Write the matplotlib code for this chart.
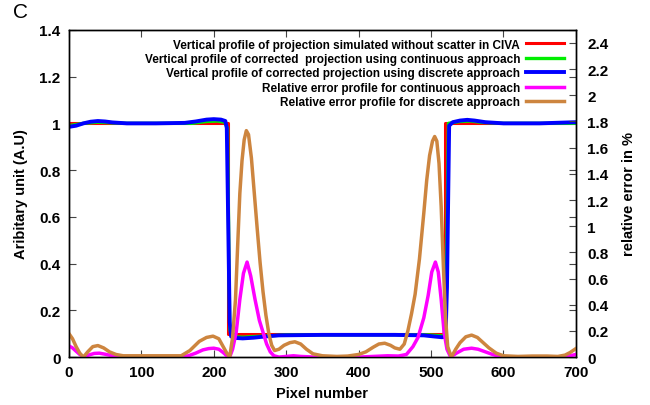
"""Profil vertical + erreur relative (continu vs discret)."""
import matplotlib
matplotlib.use("Agg")
import matplotlib.pyplot as plt
from matplotlib.ticker import FuncFormatter

plt.rcParams["font.family"] = ["Liberation Sans", "DejaVu Sans"]
plt.rcParams["font.weight"] = "bold"

# profil de reference (CIVA sans diffuse)
x_ref = [0, 220, 220, 519, 519, 700]
y_ref = [1.0, 1.0, 0.1, 0.1, 1.0, 1.0]

# profil corrige, approche continue
x_cont = [0, 10, 20, 40, 60, 80, 170, 190, 205, 215, 219, 222, 225, 240, 270,
          300, 450, 495, 510, 518, 521, 524, 540, 555, 570, 600, 700]
y_cont = [0.99, 0.995, 1.0, 1.005, 1.002, 1.0, 1.0, 1.008, 1.01, 1.005, 0.98,
          0.12, 0.088, 0.085, 0.09, 0.095, 0.096, 0.095, 0.092, 0.09, 0.3,
          1.0, 1.008, 1.01, 1.004, 1.0, 1.0]

# profil corrige, approche discrete
x_disc = [0, 10, 20, 30, 40, 50, 60, 80, 120, 160, 175, 190, 200, 210, 216,
          218, 222, 224, 230, 240, 255, 270, 290, 350, 450, 490, 505, 515,
          520, 522, 525, 530, 540, 550, 560, 575, 600, 650, 700]
y_disc = [0.985, 0.99, 1.0, 1.007, 1.01, 1.008, 1.004, 1.0, 1.0, 1.002, 1.008,
          1.016, 1.018, 1.016, 1.01, 0.98, 0.15, 0.088, 0.082, 0.08, 0.083,
          0.088, 0.093, 0.095, 0.095, 0.093, 0.088, 0.085, 0.087, 0.3, 0.99,
          1.005, 1.012, 1.015, 1.012, 1.005, 1.0, 1.0, 1.005]

# erreur relative (%), approche continue
x_err_c = [0, 5, 10, 15, 20, 27, 35, 42, 50, 60, 70, 100, 150, 165, 175, 185,
           193, 200, 207, 213, 218, 222, 226, 231, 236, 241, 246, 251, 257,
           263, 268, 273, 278, 283, 290, 300, 310, 320, 340, 400, 420, 440,
           455, 466, 475, 482, 490, 496, 501, 506, 510, 514, 518, 522, 527,
           535, 545, 556, 565, 575, 585, 595, 610, 680, 690, 700]
y_err_c = [0.086, 0.07, 0.045, 0.02, 0.0, 0.015, 0.028, 0.03, 0.022, 0.01,
           0.003, 0.0, 0.0, 0.01, 0.03, 0.055, 0.065, 0.068, 0.06, 0.035,
           0.01, 0.0, 0.06, 0.19, 0.44, 0.64, 0.726, 0.62, 0.44, 0.28, 0.19,
           0.1, 0.04, 0.01, 0.0, 0.005, 0.01, 0.005, 0.0, 0.0, 0.005, 0.01,
           0.008, 0.02, 0.08, 0.15, 0.3, 0.47, 0.65, 0.726, 0.65, 0.44, 0.19,
           0.06, 0.0, 0.03, 0.06, 0.068, 0.06, 0.04, 0.02, 0.005, 0.0, 0.0,
           0.008, 0.02]

# erreur relative (%), approche discrete
x_err_d = [0, 5, 10, 15, 20, 26, 33, 40, 48, 56, 65, 75, 100, 130, 155, 167,
           180, 190, 199, 207, 213, 218, 222, 226, 230, 233, 236, 239, 242,
           245, 248, 252, 256, 260, 264, 268, 272, 276, 280, 284, 290, 297,
           305, 312, 320, 328, 337, 350, 370, 385, 400, 410, 420, 428, 436,
           444, 450, 457, 463, 468, 473, 478, 484, 490, 494, 498, 502, 505,
           508, 511, 514, 517, 520, 523, 528, 534, 540, 548, 556, 564, 572,
           580, 590, 600, 620, 640, 660, 675, 685, 692, 700]
y_err_d = [0.18, 0.14, 0.08, 0.03, 0.0, 0.04, 0.08, 0.088, 0.07, 0.04, 0.02,
           0.01, 0.01, 0.01, 0.01, 0.05, 0.12, 0.15, 0.16, 0.14, 0.08, 0.03,
           0.0, 0.15, 0.44, 0.85, 1.25, 1.5, 1.66, 1.73, 1.7, 1.52, 1.25,
           0.98, 0.72, 0.5, 0.32, 0.18, 0.09, 0.05, 0.06, 0.09, 0.11, 0.117,
           0.1, 0.06, 0.025, 0.01, 0.005, 0.008, 0.02, 0.04, 0.075, 0.1, 0.106,
           0.09, 0.07, 0.06, 0.1, 0.2, 0.33, 0.48, 0.75, 1.1, 1.35, 1.54, 1.65,
           1.685, 1.65, 1.48, 1.15, 0.7, 0.3, 0.08, 0.0, 0.06, 0.11, 0.155,
           0.168, 0.15, 0.11, 0.07, 0.03, 0.01, 0.005, 0.008, 0.008, 0.005,
           0.015, 0.035, 0.065]

labels = [
    "Vertical profile of projection simulated without scatter in CIVA",
    "Vertical profile of corrected  projection using continuous approach",
    "Vertical profile of corrected projection using discrete approach",
    "Relative error profile for continuous approach",
    "Relative error profile for discrete approach",
]

fmt = FuncFormatter(lambda v, p: "%g" % round(v, 4))

fig = plt.figure(figsize=(6.5, 4.06), dpi=100)
ax = fig.add_axes([0.106, 0.118, 0.78, 0.806])
ax2 = ax.twinx()

l1, = ax.plot(x_ref, y_ref, color="#ff0000", lw=2.2)
l2, = ax.plot(x_cont, y_cont, color="#00ee00", lw=2.4)
l3, = ax.plot(x_disc, y_disc, color="#0000ff", lw=2.8)
l4, = ax2.plot(x_err_c, y_err_c, color="#ff00ff", lw=2.5)
l5, = ax2.plot(x_err_d, y_err_d, color="#cd853f", lw=2.5)

ax.set_xlim(0, 700)
ax.set_ylim(0, 1.4)
ax2.set_ylim(0, 2.5)
ax.set_xticks(range(0, 701, 100))
ax.set_yticks([i * 0.2 for i in range(8)])
ax2.set_yticks([i * 0.2 for i in range(13)])
ax.yaxis.set_major_formatter(fmt)
ax2.yaxis.set_major_formatter(fmt)

ax.tick_params(direction="in", top=True, right=True, length=5, width=0.8,
               labelsize=11, color="#444444", pad=6)
ax2.tick_params(direction="in", length=5, width=0.8, labelsize=11,
                color="#444444", pad=8)
for a in (ax, ax2):
    for lab in a.get_xticklabels() + a.get_yticklabels():
        lab.set_fontweight("bold")
    for s in a.spines.values():
        s.set_linewidth(1.0)

ax.set_xlabel("Pixel number", fontsize=10.5, fontweight="bold", labelpad=5)
ax.set_ylabel("Aribitary unit (A.U)", fontsize=10.5, fontweight="bold",
              labelpad=8)
ax2.set_ylabel("relative error in %", fontsize=10.5, fontweight="bold",
               rotation=90, labelpad=10)

ax2.legend([l1, l2, l3, l4, l5], labels, loc="upper right",
           bbox_to_anchor=(0.99, 0.995), frameon=False, markerfirst=False,
           prop={"size": 8.5, "weight": "bold"}, handlelength=3.2,
           labelspacing=0.2, handletextpad=0.5, borderaxespad=0.2)

fig.text(0.02, 0.955, "C", fontsize=15, fontweight="normal")

fig.savefig("out.png", dpi=100)
